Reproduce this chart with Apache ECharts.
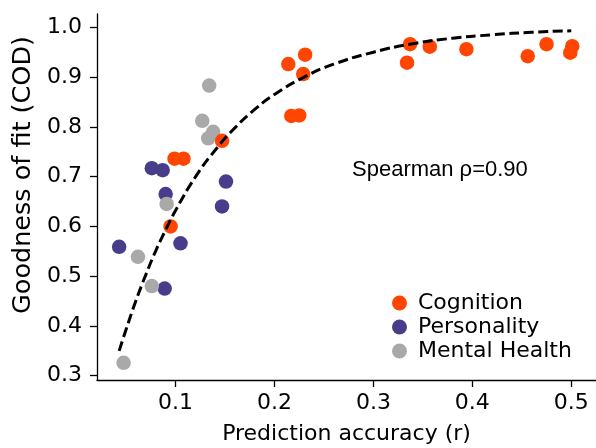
<!DOCTYPE html>
<html>
<head>
<meta charset="utf-8">
<script src="https://cdn.jsdelivr.net/npm/echarts@6/dist/echarts.min.js"></script>
<style>html,body{margin:0;padding:0;background:#fff}#c{width:596px;height:448px}</style>
</head>
<body>
<div id="c"></div>
<script>
// Cognition
const cogX = [0.147, 0.099, 0.108, 0.095, 0.214, 0.231, 0.229, 0.217, 0.225, 0.337, 0.334, 0.357, 0.394, 0.456, 0.475, 0.501, 0.499];
const cogY = [0.772, 0.736, 0.736, 0.600, 0.926, 0.945, 0.906, 0.822, 0.823, 0.966, 0.929, 0.961, 0.956, 0.942, 0.966, 0.962, 0.949];
// Personality
const perX = [0.076, 0.087, 0.151, 0.090, 0.147, 0.043, 0.105, 0.089];
const perY = [0.717, 0.713, 0.690, 0.665, 0.640, 0.559, 0.566, 0.475];
// Mental Health
const mhX = [0.134, 0.127, 0.138, 0.133, 0.091, 0.062, 0.076, 0.0475];
const mhY = [0.883, 0.812, 0.790, 0.777, 0.645, 0.539, 0.480, 0.326];
// Fitted curve
const fitX = [0.043, 0.05, 0.06, 0.07, 0.08, 0.09, 0.10, 0.12, 0.14, 0.16, 0.18, 0.20, 0.23, 0.26, 0.30, 0.34, 0.38, 0.42, 0.46, 0.50];
const fitY = [0.350, 0.393, 0.451, 0.503, 0.551, 0.593, 0.632, 0.699, 0.753, 0.798, 0.835, 0.865, 0.900, 0.926, 0.950, 0.967, 0.978, 0.985, 0.990, 0.993];
// Ticks
const xTicks = [0.1, 0.2, 0.3, 0.4, 0.5];
const yTicks = [0.3, 0.4, 0.5, 0.6, 0.7, 0.8, 0.9, 1.0];
const seriesNames = ['Cognition', 'Personality', 'Mental Health'];
const annotation = 'Spearman ρ=0.90';

const zip = (a, b) => a.map((v, i) => [v, b[i]]);
const FONT = 'DejaVu Sans';
const chart = echarts.init(document.getElementById('c'), null, {renderer: 'canvas'});
const axisCommon = {
  type: 'value',
  splitLine: {show: false},
  axisLine: {show: true, lineStyle: {color: '#000', width: 1.3}},
  axisTick: {show: true, length: 7, lineStyle: {color: '#000', width: 1.3}},
};
chart.setOption({
  animation: false,
  grid: {left: 97, top: 14, right: 0, bottom: 68, outerBoundsMode: 'none'},
  xAxis: Object.assign({}, axisCommon, {
    min: 0.0206, max: 0.525,
    axisTick: Object.assign({}, axisCommon.axisTick, {customValues: xTicks}),
    axisLabel: {customValues: xTicks, formatter: v => v.toFixed(1), color: '#000', fontFamily: FONT, fontSize: 22, margin: 12},
    name: 'Prediction accuracy (r)', nameLocation: 'middle', nameGap: 43,
    nameTextStyle: {color: '#000', fontFamily: FONT, fontSize: 22}
  }),
  yAxis: Object.assign({}, axisCommon, {
    min: 0.2914, max: 1.0267,
    axisTick: Object.assign({}, axisCommon.axisTick, {customValues: yTicks}),
    axisLabel: {customValues: yTicks, formatter: v => v.toFixed(1), color: '#000', fontFamily: FONT, fontSize: 22, margin: 15},
    name: 'Goodness of fit (COD)', nameLocation: 'middle', nameGap: 55, nameRotate: 90,
    nameTextStyle: {color: '#000', fontFamily: FONT, fontSize: 25.5, padding: [0, 0, 0, 44]}
  }),
  legend: {
    data: seriesNames, orient: 'vertical', left: 387, top: 287,
    icon: 'circle', itemWidth: 15, itemHeight: 15, itemGap: 2,
    textStyle: {color: '#000', fontFamily: FONT, fontSize: 22, padding: [0, 0, 0, 6]}
  },
  graphic: [{
    type: 'text', left: 352, top: 159,
    style: {text: annotation, fontFamily: 'Liberation Sans, Arial', fontSize: 22, fill: '#000'}
  }],
  series: [
    {name: 'Personality', type: 'scatter', data: zip(perX, perY), symbolSize: 14.5, itemStyle: {color: '#483D8B', opacity: 1}},
    {name: 'Mental Health', type: 'scatter', data: zip(mhX, mhY), symbolSize: 14.5, itemStyle: {color: '#A9A9A9', opacity: 1}},
    {name: 'Cognition', type: 'scatter', data: zip(cogX, cogY), symbolSize: 14.5, itemStyle: {color: '#FF4500', opacity: 1}},
    {name: 'Fit', type: 'line', data: zip(fitX, fitY), smooth: true, showSymbol: false, symbol: 'none', z: 5,
     lineStyle: {color: '#000', width: 3, type: [10, 4.5]}}
  ]
});
</script>
</body>
</html>
